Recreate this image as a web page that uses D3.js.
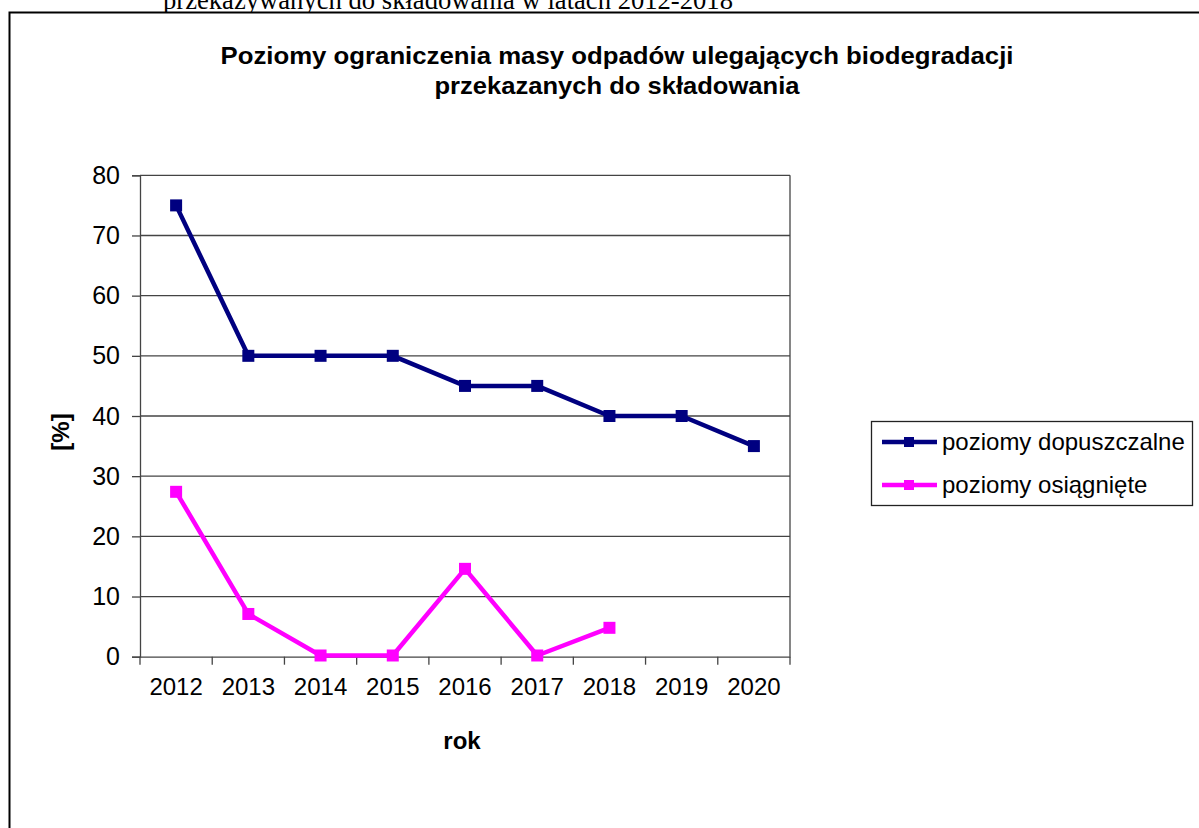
<!DOCTYPE html>
<html><head><meta charset="utf-8">
<script src="https://cdn.jsdelivr.net/npm/d3@7"></script>
<style>body{margin:0;background:#fff}svg{display:block}</style>
</head><body>
<script>
const years = ["2012","2013","2014","2015","2016","2017","2018","2019","2020"];
const dopuszczalne = [75,50,50,50,45,45,40,40,35];
const osiagniete = [27.4,7.1,0.2,0.2,14.6,0.2,4.8];
const yTicks = [0,10,20,30,40,50,60,70,80];
const seriesNames = ["poziomy dopuszczalne","poziomy osiągnięte"];
const colors = ["#000080","#ff00ff"];

const W=1199,H=828;
const svg=d3.select("body").append("svg").attr("width",W).attr("height",H);
const font="Arial, 'Liberation Sans', sans-serif";

// caption of the page, cut off at the top edge as in the reference
svg.append("text").attr("x",163).attr("y",9).attr("font-family","'Liberation Serif','Times New Roman',serif")
 .attr("font-size",27).attr("textLength",570).attr("lengthAdjust","spacingAndGlyphs")
 .text("przekazywanych do składowania w latach 2012-2018");

// outer frame
svg.append("rect").attr("x",9.5).attr("y",12.5).attr("width",1200).attr("height",830)
 .attr("fill","#fff").attr("stroke","#000").attr("stroke-width",2);

// title
const title=svg.append("text").attr("font-family",font).attr("font-weight","bold").attr("font-size",24).attr("text-anchor","middle");
title.append("tspan").attr("x",617).attr("y",64).attr("textLength",793).attr("lengthAdjust","spacingAndGlyphs")
 .text("Poziomy  ograniczenia  masy  odpadów  ulegających  biodegradacji");
title.append("tspan").attr("x",617).attr("y",94).attr("textLength",365).attr("lengthAdjust","spacingAndGlyphs")
 .text("przekazanych  do  składowania");

const pLeft=140,pRight=790,pTop=175.3,pBottom=656.7;
const x=d3.scaleBand().domain(years).range([pLeft,pRight]);
const y=d3.scaleLinear().domain([0,80]).range([pBottom,pTop]);

// gridlines
svg.append("g").selectAll("line").data(yTicks.filter(d=>d>0)).join("line")
 .attr("x1",pLeft).attr("x2",pRight).attr("y1",d=>y(d)).attr("y2",d=>y(d))
 .attr("stroke","#444").attr("stroke-width",1.3);
// right border
svg.append("line").attr("x1",pRight).attr("x2",pRight).attr("y1",pTop).attr("y2",pBottom).attr("stroke","#444").attr("stroke-width",1.3);

// y axis
const ya=svg.append("g").attr("transform",`translate(${pLeft},0)`)
 .call(d3.axisLeft(y).tickValues(yTicks).tickSize(8).tickPadding(12));
ya.select(".domain").attr("stroke","#444").attr("stroke-width",1.3);
ya.selectAll(".tick line").attr("stroke","#444").attr("stroke-width",1.3);
ya.selectAll("text").attr("font-family",font).attr("font-size",25).attr("fill","#000");

// x axis
const xa=svg.append("g").attr("transform",`translate(0,${pBottom})`)
 .call(d3.axisBottom(x).tickSize(0).tickPadding(21));
xa.select(".domain").attr("stroke","#444").attr("stroke-width",1.3);
xa.selectAll("text").attr("font-family",font).attr("font-size",24).attr("fill","#000");
svg.append("g").selectAll("line").data(years.concat(["end"])).join("line")
 .attr("x1",(d,i)=>pLeft+i*x.step()).attr("x2",(d,i)=>pLeft+i*x.step())
 .attr("y1",pBottom).attr("y2",pBottom+8).attr("stroke","#444").attr("stroke-width",1.3);

// axis titles
svg.append("text").attr("x",462).attr("y",749).attr("text-anchor","middle").attr("font-family",font)
 .attr("font-weight","bold").attr("font-size",24).text("rok");
svg.append("text").attr("transform","translate(69,432) rotate(-90)").attr("text-anchor","middle").attr("font-family",font)
 .attr("font-weight","bold").attr("font-size",24).text("[%]");

// series
const cx=d=>x(d)+x.bandwidth()/2;
[dopuszczalne,osiagniete].forEach((vals,k)=>{
  const data=vals.map((v,i)=>({yr:years[i],v}));
  svg.append("path").datum(data).attr("fill","none").attr("stroke",colors[k]).attr("stroke-width",4.5)
   .attr("stroke-linejoin","round")
   .attr("d",d3.line().x(d=>cx(d.yr)).y(d=>y(d.v)));
  svg.append("g").selectAll("rect").data(data).join("rect")
   .attr("x",d=>cx(d.yr)-6).attr("y",d=>y(d.v)-6).attr("width",12).attr("height",12).attr("fill",colors[k]);
});

// legend
const lg=svg.append("g");
lg.append("rect").attr("x",871.5).attr("y",421.5).attr("width",321).attr("height",84)
 .attr("fill","#fff").attr("stroke","#222").attr("stroke-width",1.3);
seriesNames.forEach((n,k)=>{
  const yy=442+k*43;
  lg.append("line").attr("x1",882).attr("x2",937).attr("y1",yy).attr("y2",yy).attr("stroke",colors[k]).attr("stroke-width",4.5);
  lg.append("rect").attr("x",904).attr("y",yy-5).attr("width",10).attr("height",10).attr("fill",colors[k]);
  lg.append("text").attr("x",942).attr("y",yy+8).attr("font-family",font).attr("font-size",24).attr("fill","#000").text(n);
});
</script>
</body></html>
